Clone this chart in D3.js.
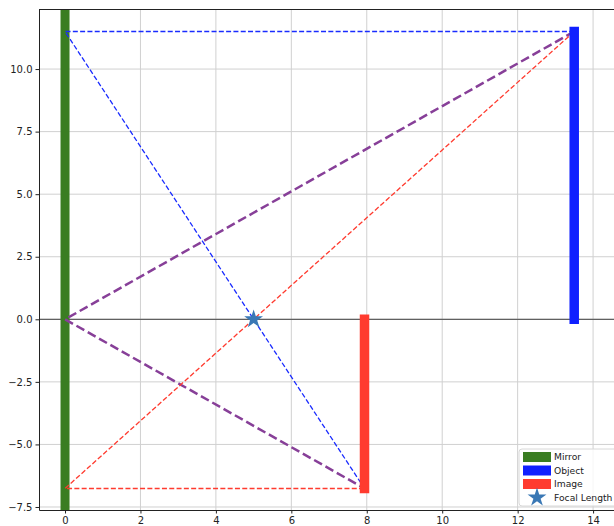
<!DOCTYPE html>
<html>
<head>
<meta charset="utf-8">
<script src="https://cdn.jsdelivr.net/npm/d3@7"></script>
<style>
  body { margin: 0; background: #fff; overflow: hidden; }
  svg { font-family: "DejaVu Sans", sans-serif; display: block; }
</style>
</head>
<body>
<svg id="chart"></svg>
<script>
// optics setup
var focalLength = 5;
var mirrorX = 0;
var objectX = 13.5;
var objectH = 11.5;
var imageX = 7.94;
var imageH = -6.76;

var xTicks = [0, 2, 4, 6, 8, 10, 12, 14];
var yTicks = [-7.5, -5.0, -2.5, 0.0, 2.5, 5.0, 7.5, 10.0];

// rays: [x, y] points
var blueRay = [[objectX, objectH], [mirrorX, objectH], [focalLength, 0], [imageX, imageH]];
var redRay = [[objectX, objectH], [focalLength, 0], [mirrorX, imageH], [imageX, imageH]];
var purpleRay = [[objectX, objectH], [mirrorX, 0], [imageX, imageH]];

var legendItems = ["Mirror", "Object", "Image", "Focal Length"];
var legendColors = ["#3a7d22", "#1020ff", "#ff3b2f", "#3a78b5"];

var width = 614;
var height = 526;
var padLeft = 39, padTop = 9, padBottom = 510;

var xScale = d3.scaleLinear()
    .domain([-0.69, 15])
    .range([padLeft, 65 + 15 * 37.72]);

var yScale = d3.scaleLinear()
    .domain([-7.62, 12.4])
    .range([padBottom, padTop]);

var svg = d3.select("#chart")
    .attr("width", width)
    .attr("height", height);

svg.append("clipPath")
    .attr("id", "clip")
    .append("rect")
    .attr("x", padLeft)
    .attr("y", padTop)
    .attr("width", xScale.range()[1] - padLeft)
    .attr("height", padBottom - padTop);

// grid
var grid = svg.append("g").attr("clip-path", "url(#clip)");
grid.selectAll(".gx")
    .data(xTicks)
    .enter()
    .append("line")
    .attr("x1", d => xScale(d))
    .attr("x2", d => xScale(d))
    .attr("y1", padTop)
    .attr("y2", padBottom)
    .attr("stroke", "#d0d0d0")
    .attr("stroke-width", 1);
grid.selectAll(".gy")
    .data(yTicks)
    .enter()
    .append("line")
    .attr("x1", padLeft)
    .attr("x2", xScale.range()[1])
    .attr("y1", d => yScale(d))
    .attr("y2", d => yScale(d))
    .attr("stroke", "#d0d0d0")
    .attr("stroke-width", 1);

var plot = svg.append("g").attr("clip-path", "url(#clip)");

// principal axis
plot.append("line")
    .attr("x1", padLeft)
    .attr("x2", xScale.range()[1])
    .attr("y1", yScale(0))
    .attr("y2", yScale(0))
    .attr("stroke", "#606060")
    .attr("stroke-width", 1.2);

// mirror
plot.append("line")
    .attr("x1", xScale(mirrorX))
    .attr("x2", xScale(mirrorX))
    .attr("y1", padTop - 5)
    .attr("y2", padBottom + 5)
    .attr("stroke", legendColors[0])
    .attr("stroke-width", 9);

var line = d3.line()
    .x(d => xScale(d[0]))
    .y(d => yScale(d[1]));

plot.append("path")
    .attr("d", line(purpleRay))
    .attr("fill", "none")
    .attr("stroke", "#873f98")
    .attr("stroke-width", 2.5)
    .attr("stroke-dasharray", "9,4");

plot.append("path")
    .attr("d", line(blueRay))
    .attr("fill", "none")
    .attr("stroke", "#1a2cff")
    .attr("stroke-width", 1.3)
    .attr("stroke-dasharray", "5,2.3");

plot.append("path")
    .attr("d", line(redRay))
    .attr("fill", "none")
    .attr("stroke", "#ff3b2f")
    .attr("stroke-width", 1.3)
    .attr("stroke-dasharray", "5,2.3");

// object and image
plot.append("line")
    .attr("x1", xScale(objectX))
    .attr("x2", xScale(objectX))
    .attr("y1", yScale(0))
    .attr("y2", yScale(objectH))
    .attr("stroke", legendColors[1])
    .attr("stroke-width", 9.5)
    .attr("stroke-linecap", "square");

plot.append("line")
    .attr("x1", xScale(imageX))
    .attr("x2", xScale(imageX))
    .attr("y1", yScale(0))
    .attr("y2", yScale(imageH))
    .attr("stroke", legendColors[2])
    .attr("stroke-width", 9.5)
    .attr("stroke-linecap", "square");

// focal point
var star = d3.symbol().type(d3.symbolStar).size(110);
plot.append("path")
    .attr("d", star())
    .attr("transform", "translate(" + xScale(focalLength) + "," + yScale(0) + ")")
    .attr("fill", legendColors[3]);

// axes
var xAxis = d3.axisBottom(xScale)
    .tickValues(xTicks)
    .tickSize(3.5)
    .tickSizeOuter(0)
    .tickFormat(d3.format("d"));
var yAxis = d3.axisLeft(yScale)
    .tickValues(yTicks)
    .tickSize(3.5)
    .tickSizeOuter(0)
    .tickFormat(d3.format(".1f"));

var gx = svg.append("g")
    .attr("transform", "translate(0," + padBottom + ")")
    .call(xAxis);
var gy = svg.append("g")
    .attr("transform", "translate(" + padLeft + ",0)")
    .call(yAxis);
[gx, gy].forEach(function (g) {
    g.selectAll("text").attr("font-size", 10).attr("fill", "#222").attr("font-family", "DejaVu Sans");
    g.selectAll(".tick line").attr("stroke", "#222");
    g.select(".domain").attr("stroke", "#222");
});

// top spine
svg.append("line")
    .attr("x1", padLeft)
    .attr("x2", width)
    .attr("y1", padTop + 0.5)
    .attr("y2", padTop + 0.5)
    .attr("stroke", "#222");

// legend
var legend = svg.append("g").attr("transform", "translate(519,449)");
legend.append("rect")
    .attr("width", 110)
    .attr("height", 57)
    .attr("rx", 3)
    .attr("fill", "#fff")
    .attr("fill-opacity", 0.8)
    .attr("stroke", "#d8d8d8");

var rows = legend.selectAll(".row")
    .data(legendItems)
    .enter()
    .append("g")
    .attr("transform", (d, i) => "translate(4," + (8 + i * 13.5) + ")");

rows.filter((d, i) => i < 3)
    .append("rect")
    .attr("x", 0)
    .attr("y", -5)
    .attr("width", 28)
    .attr("height", 10)
    .attr("fill", (d, i) => legendColors[i]);

rows.filter((d, i) => i === 3)
    .append("path")
    .attr("d", star())
    .attr("transform", "translate(14,0)")
    .attr("fill", legendColors[3]);

rows.append("text")
    .attr("x", 31)
    .attr("y", 0)
    .attr("dy", "0.35em")
    .attr("font-size", 9.2)
    .attr("fill", "#222")
    .text(d => d);
</script>
</body>
</html>
